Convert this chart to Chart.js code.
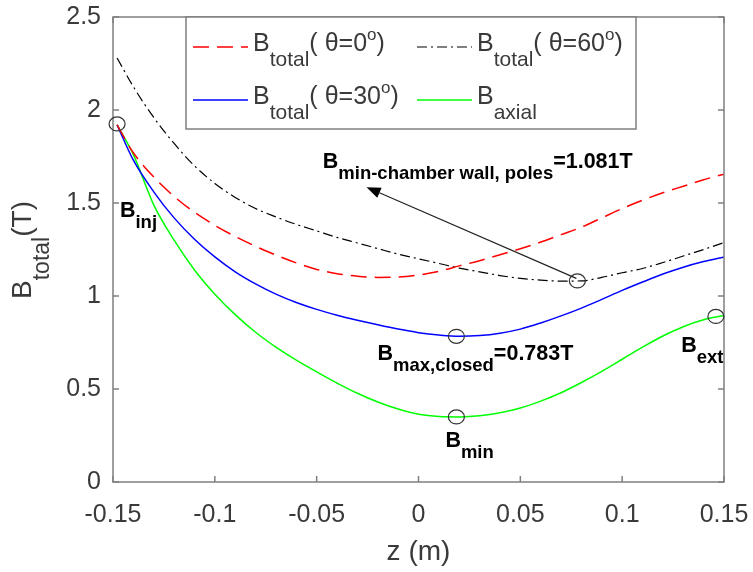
<!DOCTYPE html>
<html>
<head>
<meta charset="utf-8">
<title>Btotal vs z</title>
<script src="https://cdn.jsdelivr.net/npm/chart.js@4.4.1/dist/chart.umd.min.js"></script>
<style>
  html, body { margin: 0; padding: 0; background: #fff; }
  #grafico { display: block; }
</style>
</head>
<body>
<canvas id="grafico" width="753" height="572"></canvas>
<script>
// posiciones axiales z (m)
const zPos = [-0.148, -0.14, -0.13, -0.12, -0.11, -0.10, -0.09, -0.08, -0.07, -0.06, -0.05,
  -0.04, -0.03, -0.02, -0.01, 0, 0.01, 0.02, 0.03, 0.04, 0.05,
  0.06, 0.07, 0.08, 0.09, 0.10, 0.11, 0.12, 0.13, 0.14, 0.15];

// campo (T)
const bTheta0 = [1.92, 1.77, 1.64, 1.535, 1.45, 1.38, 1.32, 1.267, 1.22, 1.178, 1.143,
  1.12, 1.106, 1.10, 1.102, 1.113, 1.133, 1.162, 1.19, 1.222, 1.254,
  1.29, 1.33, 1.37, 1.42, 1.47, 1.515, 1.555, 1.59, 1.625, 1.655];
const bTheta60 = [2.28, 2.125, 1.96, 1.82, 1.70, 1.605, 1.53, 1.47, 1.425, 1.385, 1.35,
  1.315, 1.285, 1.255, 1.225, 1.20, 1.175, 1.15, 1.13, 1.11, 1.095,
  1.085, 1.08, 1.081, 1.10, 1.125, 1.148, 1.18, 1.215, 1.25, 1.287];
const bTheta30 = [1.92, 1.73, 1.56, 1.42, 1.305, 1.21, 1.13, 1.065, 1.01, 0.965, 0.928,
  0.897, 0.87, 0.845, 0.822, 0.803, 0.79, 0.783, 0.787, 0.80, 0.822,
  0.855, 0.893, 0.935, 0.982, 1.03, 1.075, 1.118, 1.155, 1.185, 1.21];
const bAxial = [1.92, 1.76, 1.49, 1.30, 1.14, 1.01, 0.90, 0.805, 0.725, 0.655, 0.592,
  0.532, 0.477, 0.43, 0.392, 0.364, 0.352, 0.35, 0.356, 0.372, 0.398,
  0.435, 0.48, 0.535, 0.595, 0.66, 0.725, 0.785, 0.835, 0.872, 0.895];

const xTicks = [-0.15, -0.1, -0.05, 0, 0.05, 0.1, 0.15];
const xTickLabels = ['-0.15', '-0.1', '-0.05', '0', '0.05', '0.1', '0.15'];
const yTicks = [0, 0.5, 1, 1.5, 2, 2.5];
const yTickLabels = ['0', '0.5', '1', '1.5', '2', '2.5'];

// puntos marcados con circulo (z, B)
const marcas = [[-0.148, 1.925], [0.078, 1.081], [0.0186, 0.783], [0.0186, 0.35], [0.146, 0.89]];

// etiquetas en coordenadas de datos (esquina izq., linea base)
const etiquetas = [
  { z: -0.1466, b: 1.425, partes: [['B', 0], ['inj', 1]] },
  { z: -0.047, b: 1.688, partes: [['B', 0], ['min-chamber wall, poles', 1], ['=1.081T', 0]] },
  { z: -0.0201, b: 0.656, partes: [['B', 0], ['max,closed', 1], ['=0.783T', 0]] },
  { z: 0.0132, b: 0.188, partes: [['B', 0], ['min', 1]] },
  { z: 0.129, b: 0.699, partes: [['B', 0], ['ext', 1]] }
];
const flecha = { desde: [0.0775, 1.095], hasta: [-0.0255, 1.585] };

const FUENTE = '"Liberation Sans", Arial, sans-serif';
const colorEje = '#7f7f7f';
const colorTexto = '#3a3a3a';

function puntos(ys) {
  return zPos.map((z, i) => ({ x: z, y: ys[i] }));
}

// texto con subindices (1) y superindices (2)
function medir(ctx, partes, t, negrita) {
  let w = 0;
  partes.forEach(([s, m]) => {
    ctx.font = (negrita ? 'bold ' : '') + (m === 0 ? t.n : m === 1 ? t.sub : t.sup) + 'px ' + FUENTE;
    w += ctx.measureText(s).width;
  });
  return w;
}
function textoRico(ctx, x, y, partes, t, negrita) {
  let cx = x;
  partes.forEach(([s, m]) => {
    const tam = m === 0 ? t.n : m === 1 ? t.sub : t.sup;
    const dy = m === 0 ? 0 : m === 1 ? t.dSub : -t.dSup;
    ctx.font = (negrita ? 'bold ' : '') + tam + 'px ' + FUENTE;
    ctx.fillText(s, cx, y + dy);
    cx += ctx.measureText(s).width;
  });
}

const series = [
  { label: 'Btotal( θ=0°)', data: bTheta0, color: '#ff0000', dash: [16, 8], ancho: 1.5,
    leyenda: [['B', 0], ['total', 1], ['( θ=0', 0], ['o', 2], [')', 0]] },
  { label: 'Btotal( θ=60°)', data: bTheta60, color: '#000000', dash: [10, 4, 2, 4], ancho: 1.2,
    leyenda: [['B', 0], ['total', 1], ['( θ=60', 0], ['o', 2], [')', 0]] },
  { label: 'Btotal( θ=30°)', data: bTheta30, color: '#0000ff', dash: [], ancho: 1.5,
    leyenda: [['B', 0], ['total', 1], ['( θ=30', 0], ['o', 2], [')', 0]] },
  { label: 'Baxial', data: bAxial, color: '#00ff00', dash: [], ancho: 1.5,
    leyenda: [['B', 0], ['axial', 1]] }
];

const plugDecoracion = {
  id: 'decoracion',
  afterDraw(chart) {
    const ctx = chart.ctx, a = chart.chartArea;
    const sx = chart.scales.x, sy = chart.scales.y;
    const linea = (x1, y1, x2, y2) => { ctx.beginPath(); ctx.moveTo(x1, y1); ctx.lineTo(x2, y2); ctx.stroke(); };
    ctx.save();

    // caja y marcas hacia adentro
    ctx.strokeStyle = colorEje;
    ctx.lineWidth = 1.5;
    ctx.setLineDash([]);
    ctx.strokeRect(a.left, a.top, a.right - a.left, a.bottom - a.top);
    xTicks.forEach(v => {
      const px = sx.getPixelForValue(v);
      linea(px, a.bottom, px, a.bottom - 6);
      linea(px, a.top, px, a.top + 6);
    });
    yTicks.forEach(v => {
      const py = sy.getPixelForValue(v);
      linea(a.left, py, a.left + 6, py);
      linea(a.right, py, a.right - 6, py);
    });

    // leyenda
    const L = a.left + 73, T = a.top, W = 450, H = 112;
    ctx.fillStyle = '#fff';
    ctx.fillRect(L, T, W, H);
    ctx.strokeStyle = colorEje;
    ctx.lineWidth = 1.5;
    ctx.strokeRect(L, T, W, H);
    const tLey = { n: 25, sub: 21, sup: 17, dSub: 15, dSup: 11 };
    const celdas = [[0, 0], [1, 0], [0, 1], [1, 1]];
    series.forEach((s, i) => {
      const [col, fila] = celdas[i];
      const x0 = L + 7 + col * 224, y0 = T + 30 + fila * 53;
      ctx.strokeStyle = s.color;
      ctx.lineWidth = s.ancho;
      ctx.setLineDash(s.dash);
      linea(x0, y0, x0 + 55, y0);
      ctx.setLineDash([]);
      ctx.fillStyle = colorTexto;
      ctx.textAlign = 'left';
      ctx.textBaseline = 'alphabetic';
      textoRico(ctx, x0 + 60, y0 + 4, s.leyenda, tLey, false);
    });

    // flecha
    const fx1 = sx.getPixelForValue(flecha.desde[0]), fy1 = sy.getPixelForValue(flecha.desde[1]);
    const fx2 = sx.getPixelForValue(flecha.hasta[0]), fy2 = sy.getPixelForValue(flecha.hasta[1]);
    ctx.strokeStyle = '#222';
    ctx.fillStyle = '#000';
    ctx.lineWidth = 1.2;
    const ang = Math.atan2(fy2 - fy1, fx2 - fx1);
    const lc = 14, ac = 5.5;
    const bx = fx2 - lc * Math.cos(ang), by = fy2 - lc * Math.sin(ang);
    linea(fx1, fy1, bx, by);
    ctx.beginPath();
    ctx.moveTo(fx2, fy2);
    ctx.lineTo(bx + ac * Math.sin(ang), by - ac * Math.cos(ang));
    ctx.lineTo(bx - ac * Math.sin(ang), by + ac * Math.cos(ang));
    ctx.closePath();
    ctx.fill();

    // circulos
    ctx.strokeStyle = '#333';
    ctx.lineWidth = 1.2;
    marcas.forEach(([z, b]) => {
      ctx.beginPath();
      ctx.ellipse(sx.getPixelForValue(z), sy.getPixelForValue(b), 8, 7, 0, 0, Math.PI * 2);
      ctx.stroke();
    });

    // etiquetas en negrita
    const tEt = { n: 21.5, sub: 18.5, sup: 18, dSub: 11, dSup: 8 };
    ctx.fillStyle = '#000';
    etiquetas.forEach(e => {
      textoRico(ctx, sx.getPixelForValue(e.z), sy.getPixelForValue(e.b), e.partes, tEt, true);
    });

    // titulos de ejes
    ctx.fillStyle = colorTexto;
    ctx.font = '28px ' + FUENTE;
    ctx.textAlign = 'center';
    ctx.fillText('z (m)', (a.left + a.right) / 2, 560);
    ctx.textAlign = 'left';
    const tY = { n: 28, sub: 23, sup: 20, dSub: 18, dSup: 10 };
    const partesY = [['B', 0], ['total', 1], ['(T)', 0]];
    const wY = medir(ctx, partesY, tY, false);
    ctx.translate(31, 250);
    ctx.rotate(-Math.PI / 2);
    textoRico(ctx, -wY / 2, 0, partesY, tY, false);

    ctx.restore();
  }
};

const ctx = document.getElementById('grafico').getContext('2d');
new Chart(ctx, {
  type: 'line',
  plugins: [plugDecoracion],
  data: {
    datasets: series.map(s => ({
      label: s.label,
      data: puntos(s.data),
      borderColor: s.color,
      borderWidth: s.ancho,
      borderDash: s.dash,
      pointRadius: 0,
      fill: false,
      cubicInterpolationMode: 'monotone'
    }))
  },
  options: {
    responsive: false,
    animation: false,
    devicePixelRatio: 1,
    layout: { padding: { top: 17, right: 29, left: 0, bottom: 0 } },
    scales: {
      x: {
        type: 'linear',
        min: -0.15,
        max: 0.15,
        afterBuildTicks: s => { s.ticks = xTicks.map(v => ({ value: v })); },
        afterFit: s => { s.height = 90; s.paddingLeft = 0; s.paddingRight = 0; },
        grid: { display: false, drawTicks: false },
        border: { display: false },
        ticks: {
          autoSkip: false,
          maxRotation: 0,
          padding: 18,
          color: colorTexto,
          font: { family: FUENTE, size: 25 },
          callback: (v, i) => xTickLabels[i]
        }
      },
      y: {
        type: 'linear',
        min: 0,
        max: 2.5,
        afterBuildTicks: s => { s.ticks = yTicks.map(v => ({ value: v })); },
        afterFit: s => { s.width = 113; s.paddingTop = 0; s.paddingBottom = 0; },
        grid: { display: false, drawTicks: false },
        border: { display: false },
        ticks: {
          padding: 12,
          color: colorTexto,
          font: { family: FUENTE, size: 25 },
          callback: (v, i) => yTickLabels[i]
        }
      }
    },
    plugins: {
      legend: { display: false },
      tooltip: { enabled: false }
    }
  }
});
</script>
</body>
</html>
